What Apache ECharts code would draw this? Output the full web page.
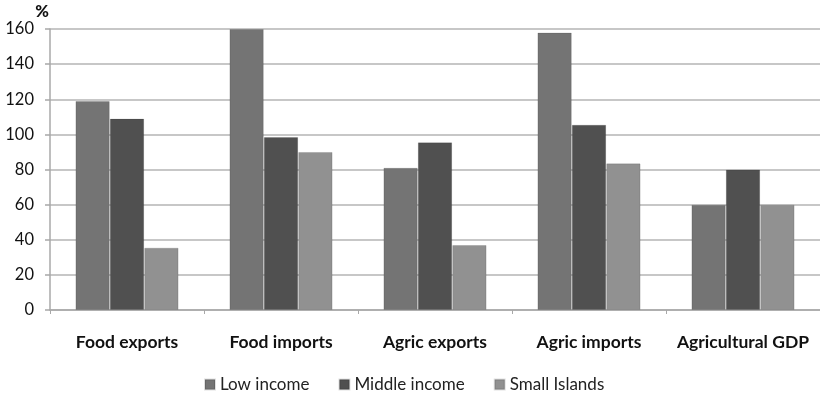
<!DOCTYPE html>
<html>
<head>
<meta charset="utf-8">
<script src="https://cdn.jsdelivr.net/npm/echarts@6/dist/echarts.min.js"></script>
<style>
html,body{margin:0;padding:0;background:#fff;}
#chart{width:820px;height:401px;}
</style>
</head>
<body>
<div id="chart"></div>
<script>
const categories = ['Food exports', 'Food imports', 'Agric exports', 'Agric imports', 'Agricultural GDP'];
const lowIncome = [119, 160, 81, 158, 60];
const middleIncome = [109, 98.5, 95.5, 105.5, 80];
const smallIslands = [35.5, 90, 37, 83.5, 60];
const yTicks = { min: 0, max: 160, interval: 20 };

const FONT = 'Lato, "Liberation Sans", sans-serif';
const chart = echarts.init(document.getElementById('chart'), null, { renderer: 'canvas' });

const barSeries = (name, data, color) => ({
  name, type: 'bar', data,
  barGap: '0%', barCategoryGap: '33%',
  itemStyle: { color, borderColor: 'rgba(0,0,0,0.12)', borderWidth: 1 },
  emphasis: { disabled: true }
});

chart.setOption({
  animation: false,
  textStyle: { fontFamily: FONT },
  grid: { left: 50, right: -2, top: 29, bottom: 91, containLabel: false },
  legend: {
    bottom: 3, left: 199,
    itemWidth: 10, itemHeight: 10, itemGap: 29,
    icon: 'rect',
    textStyle: { fontFamily: FONT, fontSize: 17, color: '#222' },
    data: ['Low income', 'Middle income', 'Small Islands']
  },
  xAxis: {
    type: 'category', data: categories,
    axisLine: { lineStyle: { color: '#a8a8a8', width: 1.5 } },
    axisTick: { show: true, length: 4, alignWithLabel: false, lineStyle: { color: '#a8a8a8' } },
    axisLabel: { interval: 0, fontFamily: FONT, fontSize: 17.5, fontWeight: 'bold', color: '#111', margin: 23 }
  },
  yAxis: {
    type: 'value', min: yTicks.min, max: yTicks.max, interval: yTicks.interval,
    name: '%', nameLocation: 'end', nameGap: 9,
    nameTextStyle: { fontFamily: FONT, fontSize: 16.5, fontWeight: 900, color: '#111', align: 'right', padding: [0, 1, 0, 0] },
    axisLine: { show: true, lineStyle: { color: '#a8a8a8', width: 1.5 } },
    axisTick: { show: true, length: 5, lineStyle: { color: '#a8a8a8', width: 1.5 } },
    axisLabel: { fontFamily: FONT, fontSize: 16.5, color: '#111', margin: 16 },
    splitLine: { lineStyle: { color: '#b4b4b4', width: 1.5 } }
  },
  series: [
    barSeries('Low income', lowIncome, '#747474'),
    barSeries('Middle income', middleIncome, '#505050'),
    barSeries('Small Islands', smallIslands, '#919191')
  ]
});
</script>
</body>
</html>
